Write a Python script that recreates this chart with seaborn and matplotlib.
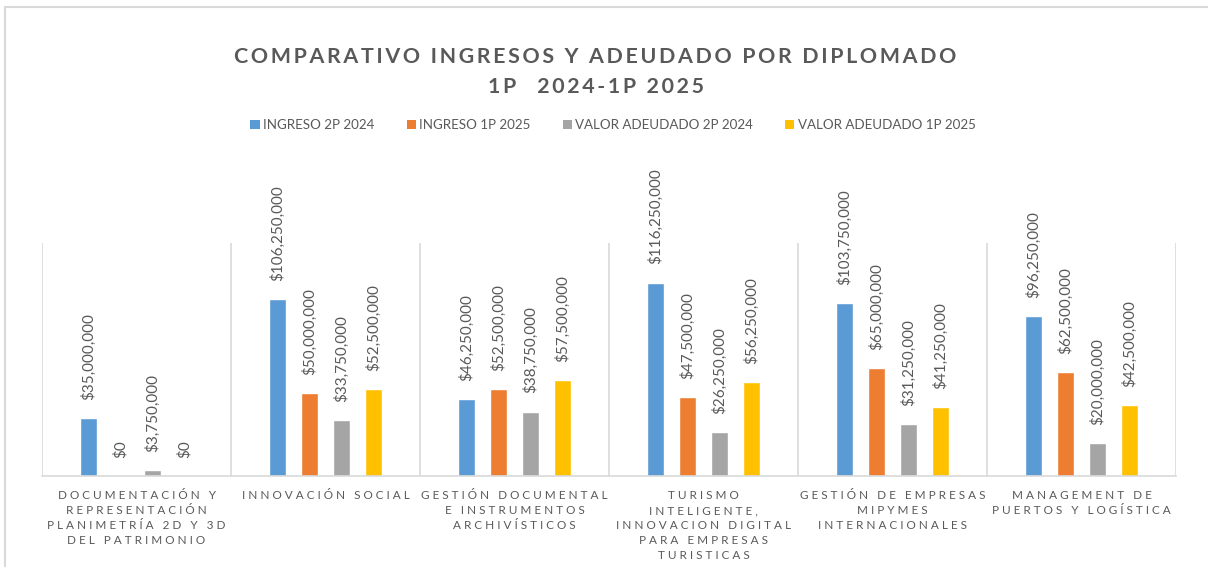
import numpy as np
import pandas as pd
import matplotlib
matplotlib.use("Agg")
import matplotlib.pyplot as plt
import seaborn as sns
from matplotlib.patches import Rectangle, Patch

# --- Data ---
programas = [
    "DOCUMENTACIÓN Y\nREPRESENTACIÓN\nPLANIMETRÍA 2D Y 3D\nDEL PATRIMONIO",
    "INNOVACIÓN SOCIAL",
    "GESTIÓN DOCUMENTAL\nE INSTRUMENTOS\nARCHIVÍSTICOS",
    "TURISMO\nINTELIGENTE,\nINNOVACION DIGITAL\nPARA EMPRESAS\nTURISTICAS",
    "GESTIÓN DE EMPRESAS\nMIPYMES\nINTERNACIONALES",
    "MANAGEMENT DE\nPUERTOS Y LOGÍSTICA",
]
series = ["INGRESO 2P 2024", "INGRESO 1P 2025",
          "VALOR ADEUDADO 2P 2024", "VALOR ADEUDADO 1P 2025"]
ingreso_2p_2024 = [35000000, 106250000, 46250000, 116250000, 103750000, 96250000]
ingreso_1p_2025 = [0, 50000000, 52500000, 47500000, 65000000, 62500000]
adeudado_2p_2024 = [3750000, 33750000, 38750000, 26250000, 31250000, 20000000]
adeudado_1p_2025 = [0, 52500000, 57500000, 56250000, 41250000, 42500000]

colores = ["#5B9BD5", "#ED7D31", "#A5A5A5", "#FFC000"]
gris = "#595959"

df = pd.DataFrame({
    "programa": programas * 4,
    "serie": np.repeat(series, len(programas)),
    "valor": ingreso_2p_2024 + ingreso_1p_2025 + adeudado_2p_2024 + adeudado_1p_2025,
})

sns.set_style("white")
plt.rcParams["font.family"] = ["Lato", "DejaVu Sans"]


def espaciar(texto, sep=" ", word_sep="   "):
    lineas = []
    for linea in texto.split("\n"):
        palabras = [sep.join(p) for p in linea.split(" ")]
        lineas.append(word_sep.join(palabras))
    return "\n".join(lineas)


fig = plt.figure(figsize=(12.08, 5.67), dpi=100)
ax = fig.add_axes([42 / 1208, 1 - 476 / 567, (1176 - 42) / 1208, (476 - 243) / 567])

sns.barplot(data=df, x="programa", y="valor", hue="serie", order=programas,
            hue_order=series, palette=colores, width=0.677, gap=0.47,
            saturation=1, ax=ax, legend=False)

ax.set_xlim(-0.5, len(programas) - 0.5)
ax.set_ylim(0, 140000000)
for i in range(len(programas) + 1):
    ax.axvline(i - 0.5, color="#d9d9d9", lw=1.2, zorder=0)

for cont in ax.containers:
    ax.bar_label(cont, labels=[f"${v:,.0f}" for v in cont.datavalues],
                 rotation=90, padding=13, fontsize=11, color=gris)

ax.set_yticks([])
ax.set_xlabel("")
ax.set_ylabel("")
ax.set_xticks(range(len(programas)))
ax.set_xticklabels([espaciar(p) for p in programas], fontsize=8.5,
                   color=gris, linespacing=1.45, va="top")
ax.tick_params(axis="x", length=0, pad=10)
for s in ["top", "right", "left"]:
    ax.spines[s].set_visible(False)
ax.spines["bottom"].set_color("#d9d9d9")
ax.spines["bottom"].set_linewidth(1.2)

# --- Title ---
titulo = espaciar("COMPARATIVO INGRESOS Y ADEUDADO POR DIPLOMADO\n1P  2024-1P 2025",
                  sep="\u2009", word_sep="\u2009 \u2009")
fig.text(0.493, 1 - 72 / 567, titulo, ha="center", va="center", fontsize=15.4,
         fontweight="bold", color=gris, linespacing=1.57)

# --- Legend ---
handles = [Patch(facecolor=c, edgecolor="none") for c in colores]
fig.legend(handles, series, loc="center", bbox_to_anchor=(0.5075, 1 - 125 / 567),
           ncol=4, frameon=False, fontsize=9.6, handlelength=0.7,
           handleheight=0.7, handletextpad=0.25, columnspacing=2.4,
           labelcolor=gris)

# --- Chart border ---
fig.patches.append(Rectangle((5 / 1208, -0.1), 1.2, 1 - 7 / 567 + 0.1,
                             transform=fig.transFigure, fill=False,
                             edgecolor="#d9d9d9", lw=1.5))

fig.savefig("out.png", dpi=100)
